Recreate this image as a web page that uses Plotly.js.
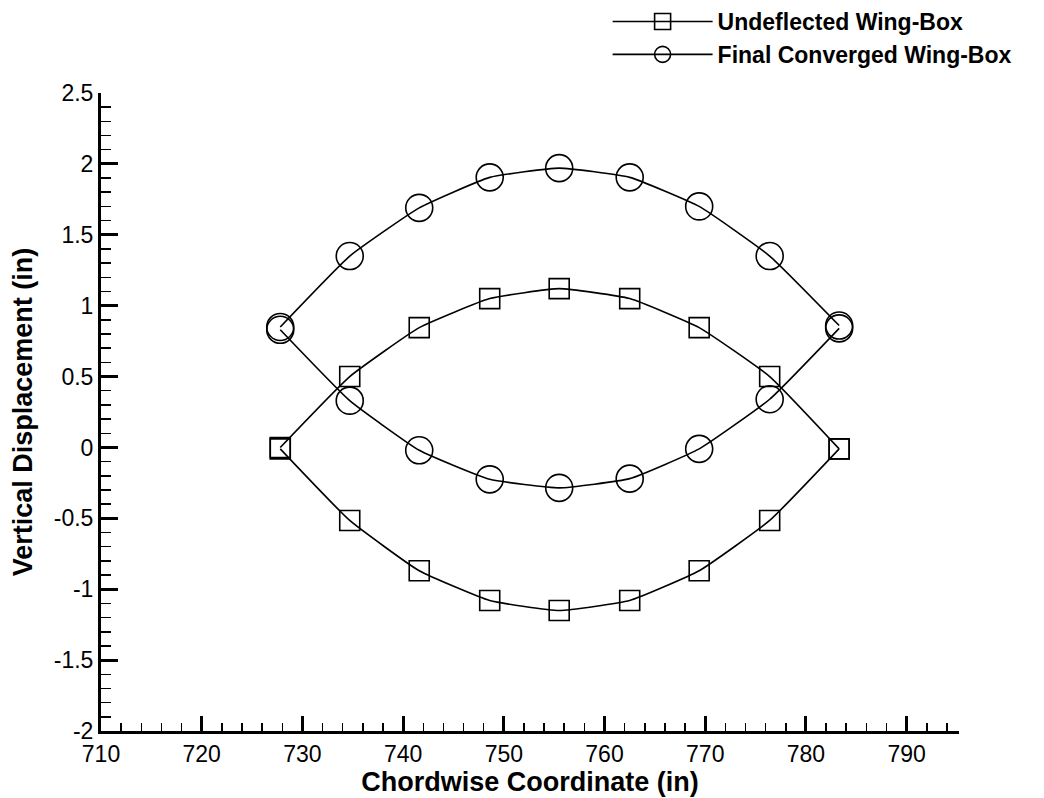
<!DOCTYPE html>
<html>
<head>
<meta charset="utf-8">
<script src="https://cdn.plot.ly/plotly-3.0.1.min.js"></script>
<style>html,body{margin:0;padding:0;background:#fff;}#chart{width:1044px;height:798px;}</style>
</head>
<body>
<div id="chart"></div>
<script>
// Chordwise stations (in)
const chordX = [727.8, 734.7, 741.6, 748.6, 755.5, 762.5, 769.4, 776.4, 783.3];
// Undeflected wing-box (squares)
const undeflUpper = [0.0, 0.50, 0.845, 1.05, 1.12, 1.05, 0.845, 0.50, -0.01];
const undeflLower = [-0.01, -0.515, -0.87, -1.08, -1.15, -1.08, -0.87, -0.515, -0.01];
// Final converged wing-box (circles)
const finalUpper = [0.85, 1.35, 1.69, 1.905, 1.97, 1.905, 1.70, 1.35, 0.86];
const finalLower = [0.83, 0.33, -0.02, -0.225, -0.285, -0.22, -0.01, 0.34, 0.84];

const seriesNames = ['Undeflected Wing-Box', 'Final Converged Wing-Box'];

const xTickVals = [710, 720, 730, 740, 750, 760, 770, 780, 790];
const xTickText = ['710', '720', '730', '740', '750', '760', '770', '780', '790'];
const yTickVals = [-2, -1.5, -1, -0.5, 0, 0.5, 1, 1.5, 2, 2.5];
const yTickText = ['-2', '-1.5', '-1', '-0.5', '0', '0.5', '1', '1.5', '2', '2.5'];

const FONT = 'Liberation Sans, Arial, Helvetica, sans-serif';
const lineStyle = {color: '#000', width: 1.6, shape: 'spline', smoothing: 0.4};

function trace(y, name, symbol, size, show) {
  return {
    x: chordX, y: y, name: name, type: 'scatter', mode: 'lines+markers',
    legendgroup: name, showlegend: show,
    line: lineStyle,
    marker: {symbol: symbol, size: size, color: '#000', line: {width: 1.6, color: '#000'}}
  };
}

const data = [
  trace(undeflUpper, seriesNames[0], 'square-open', 20, true),
  trace(undeflLower, seriesNames[0], 'square-open', 20, false),
  trace(finalUpper, seriesNames[1], 'circle-open', 27, true),
  trace(finalLower, seriesNames[1], 'circle-open', 27, false)
];

const layout = {
  width: 1044, height: 798,
  paper_bgcolor: '#fff', plot_bgcolor: '#fff',
  margin: {l: 101, r: 85, t: 93, b: 67, autoexpand: false},
  font: {family: FONT, color: '#000', size: 23},
  showlegend: true,
  legend: {
    xref: 'container', yref: 'container',
    x: 0.582, y: 1.0, xanchor: 'left', yanchor: 'top',
    itemwidth: 100,
    font: {family: FONT, size: 23, weight: 'bold', color: '#000'},
    bgcolor: 'rgba(0,0,0,0)', borderwidth: 0, tracegroupgap: 0
  },
  xaxis: {
    range: [710, 795.2], showline: true, linewidth: 3, linecolor: '#000',
    showgrid: false, zeroline: false,
    tickmode: 'array', tickvals: xTickVals, ticktext: xTickText,
    ticks: 'inside', ticklen: 15, tickwidth: 3, tickcolor: '#000',
    tickfont: {family: FONT, size: 23},
    minor: {tickmode: 'linear', tick0: 710, dtick: 2, ticks: 'inside', ticklen: 8, tickwidth: 1.5, tickcolor: '#000', showgrid: false},
    title: {text: 'Chordwise Coordinate (in)', font: {family: FONT, size: 27, weight: 'bold'}, standoff: 0}
  },
  yaxis: {
    range: [-2, 2.5], showline: true, linewidth: 3, linecolor: '#000',
    showgrid: false, zeroline: false,
    tickmode: 'array', tickvals: yTickVals, ticktext: yTickText,
    ticks: 'inside', ticklen: 17, tickwidth: 3, tickcolor: '#000',
    tickfont: {family: FONT, size: 23},
    minor: {tickmode: 'linear', tick0: -2, dtick: 0.1, ticks: 'inside', ticklen: 10, tickwidth: 1.5, tickcolor: '#000', showgrid: false},
    title: {text: 'Vertical Displacement (in)', font: {family: FONT, size: 27, weight: 'bold'}, standoff: 14}
  }
};

Plotly.newPlot('chart', data, layout, {displayModeBar: false, staticPlot: true});
</script>
</body>
</html>
